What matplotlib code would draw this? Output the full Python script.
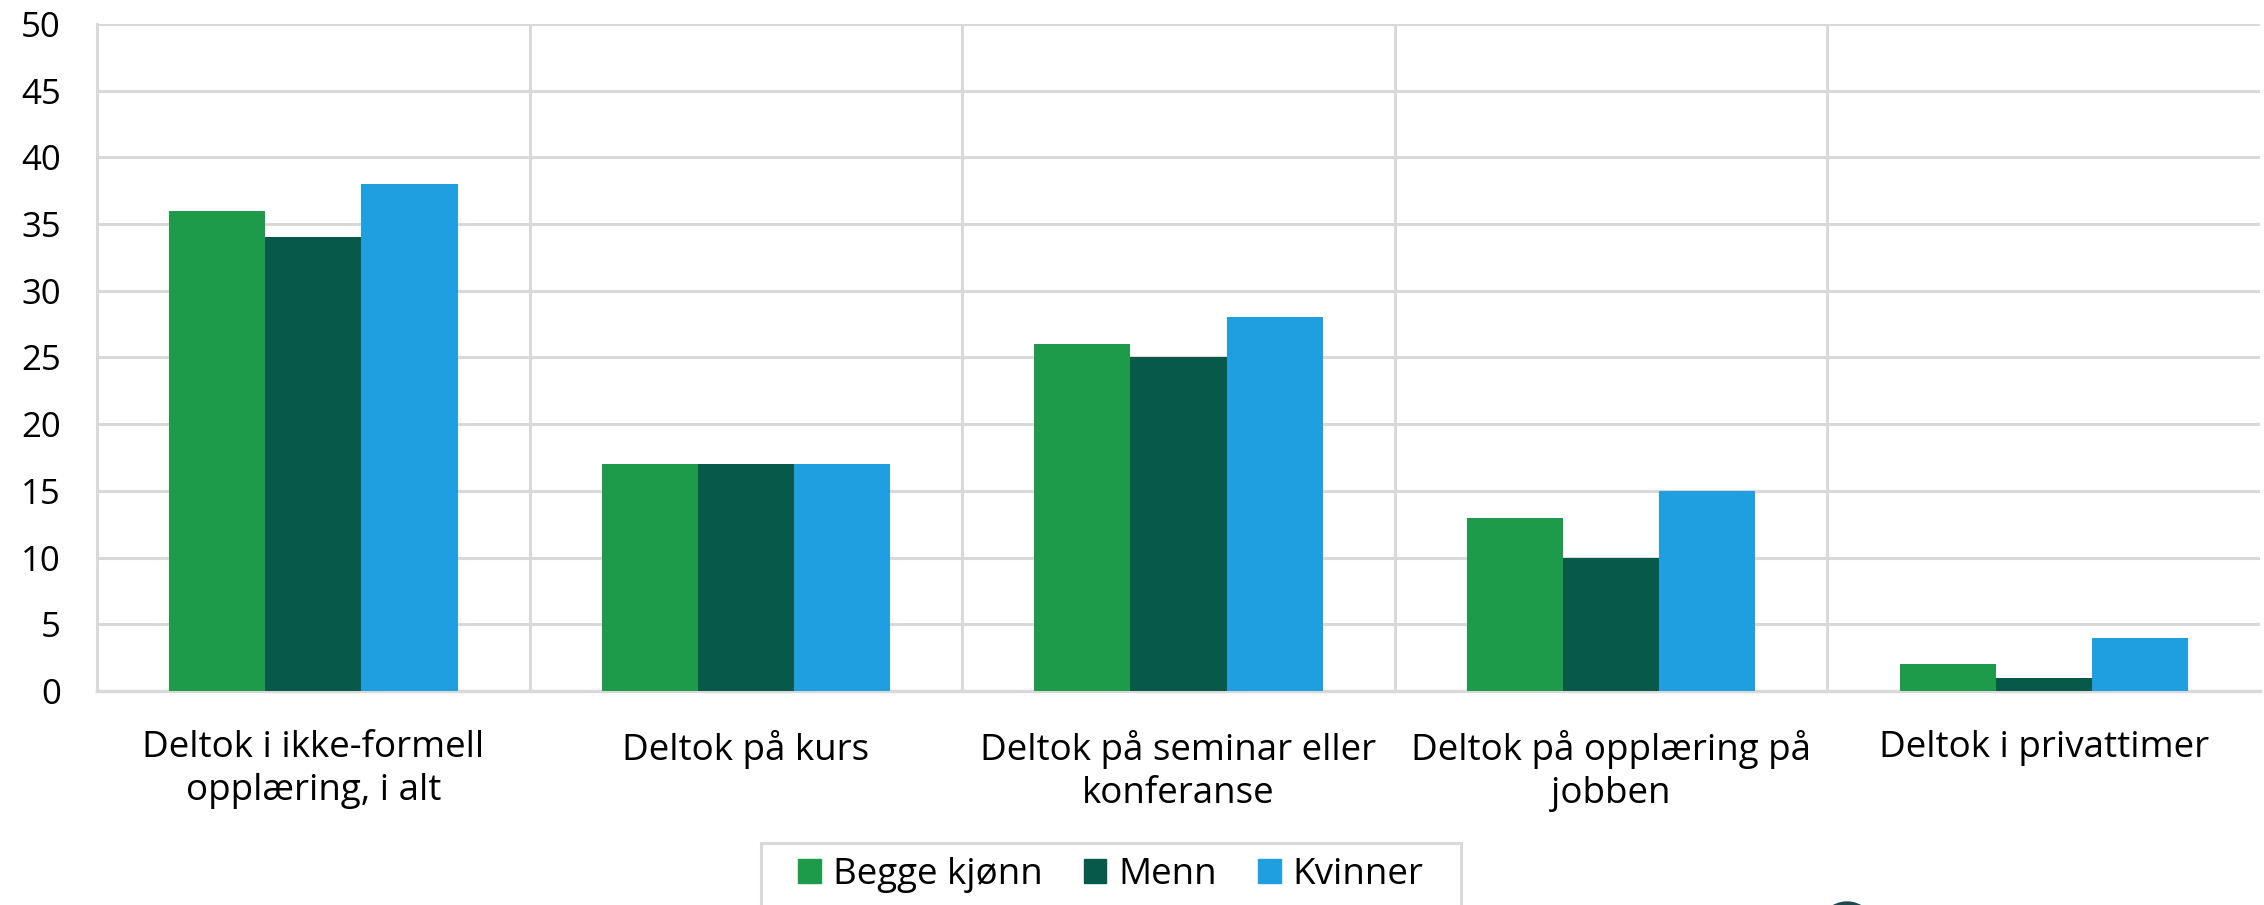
import matplotlib.pyplot as plt
import matplotlib.patches as mpatches
import numpy as np

plt.rcParams['font.family'] = ['Open Sans', 'DejaVu Sans']

# ---- Data ----
categories = [
    'Deltok i ikke-formell\nopplæring, i alt',
    'Deltok på kurs',
    'Deltok på seminar eller\nkonferanse',
    'Deltok på opplæring på\njobben',
    'Deltok i privattimer',
]
begge = [36, 17, 26, 13, 2]
menn = [34, 17, 25, 10, 1]
kvinner = [38, 17, 28, 15, 4]
series_names = ['Begge kjønn', 'Menn', 'Kvinner']
colors = ['#1d9a4a', '#07594a', '#1f9fe0']
yticks = [0, 5, 10, 15, 20, 25, 30, 35, 40, 45, 50]

W, H = 2264, 905
fig = plt.figure(figsize=(W / 100, H / 100), dpi=100)
ax = fig.add_axes([97 / W, (H - 691) / H, 2163 / W, 667 / H])

x = np.arange(len(categories))
bw = 1 / 4.5
for i, (vals, name, c) in enumerate(zip([begge, menn, kvinner], series_names, colors)):
    ax.bar(x + (i - 1) * bw, vals, width=bw, color=c, label=name, zorder=3)

ax.set_xlim(-0.5, len(categories) - 0.5)
ax.set_ylim(0, 50)
ax.set_yticks(yticks)

grid_c = '#d9d9d9'
for t in yticks[1:]:
    ax.axhline(t, color=grid_c, lw=2.2, zorder=1)
for b in np.arange(0.5, len(categories) - 0.5, 1):
    ax.axvline(b, color=grid_c, lw=2.2, zorder=1)

for s in ['top', 'right']:
    ax.spines[s].set_visible(False)
ax.spines['left'].set_color(grid_c)
ax.spines['left'].set_linewidth(2.2)
ax.spines['bottom'].set_color(grid_c)
ax.spines['bottom'].set_linewidth(2.5)

ax.set_xticks(x)
ax.set_xticklabels(categories, fontsize=26.5, linespacing=1.25)
ax.tick_params(axis='x', length=0, pad=28)
ax.tick_params(axis='y', length=0, pad=26, labelsize=25)

# legend: frame drawn separately so it runs off the bottom edge like the original
fig.patches.append(mpatches.Rectangle((761 / W, -0.05), 700 / W, 0.05 + (H - 843) / H,
                                      transform=fig.transFigure, facecolor='white',
                                      edgecolor=grid_c, lw=2.2, figure=fig))
handles = [mpatches.Patch(color=c) for c in colors]
leg = fig.legend(handles, series_names, loc='center',
                 bbox_to_anchor=(1111 / W, 1 - 875 / H), ncol=3, fontsize=26.5,
                 frameon=False, handlelength=0.62, handleheight=0.62, handletextpad=0.33,
                 columnspacing=1.1, borderpad=0, borderaxespad=0)

# partial logo at the bottom edge
fig.patches.append(mpatches.Circle((18.47, -0.25), 0.28, transform=fig.dpi_scale_trans,
                                   color='#1d4a50', figure=fig))

fig.savefig('out.png', dpi=100)
